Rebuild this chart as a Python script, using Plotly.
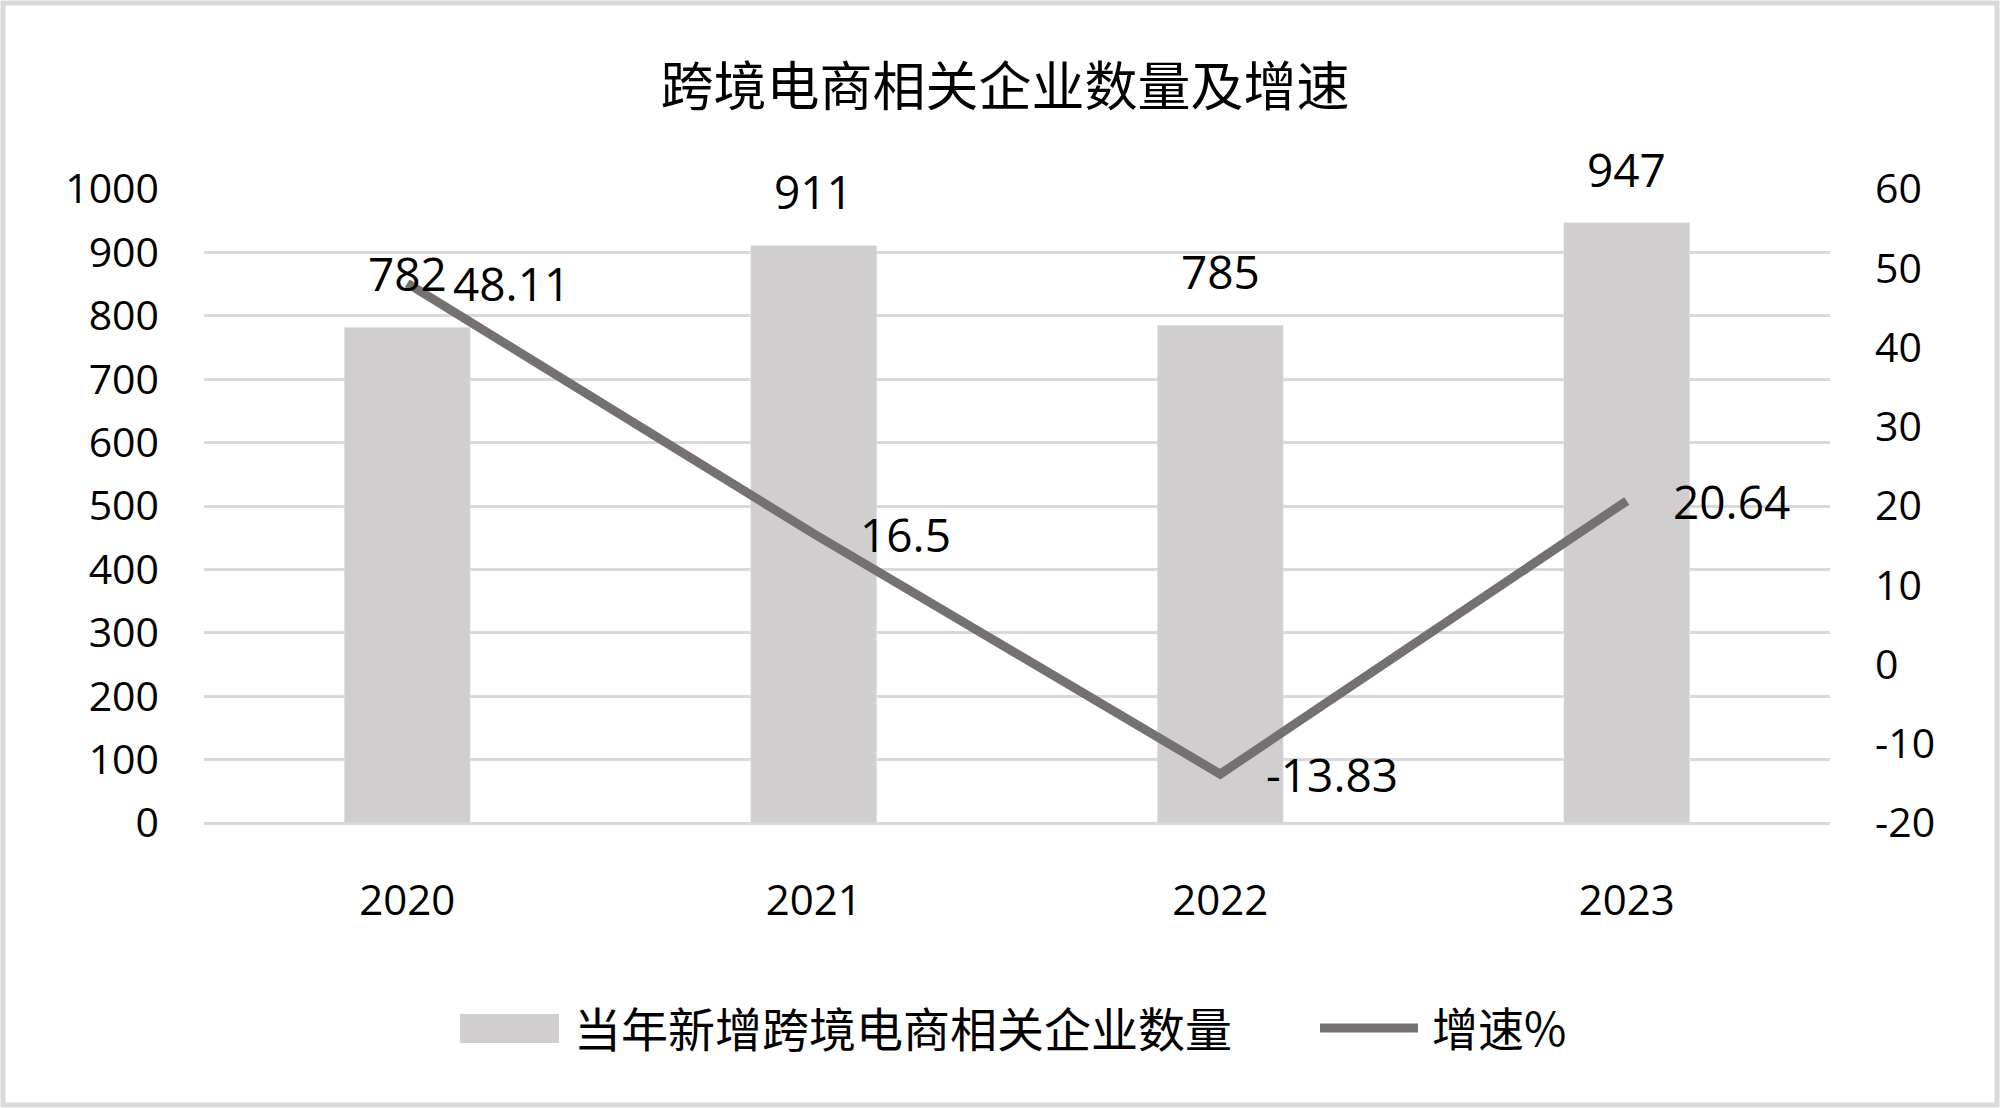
import plotly.graph_objects as go

years = ["2020", "2021", "2022", "2023"]
counts = [782, 911, 785, 947]
growth = [48.11, 16.5, -13.83, 20.64]
growth_labels = ["48.11", "16.5", "-13.83", "20.64"]

left_ticks = [0, 100, 200, 300, 400, 500, 600, 700, 800, 900, 1000]
right_ticks = [-20, -10, 0, 10, 20, 30, 40, 50, 60]
right_tick_text = ["-20", "-10", "0", "10", "20", "30", "40", "50", "60"]

title_text = "跨境电商相关企业数量及增速"
bar_name = "当年新增跨境电商相关企业数量"
line_name = "增速%"

W, H = 2000, 1108
ML, MR, MT, MB = 204, 170, 189, 285
PW = W - ML - MR
PH = H - MT - MB

def px_x(p):
    return (p - ML) / PW

def px_y(p):
    return (H - MB - p) / PH

FONT = "Open Sans, Noto Sans CJK SC, sans-serif"
CJK = "Noto Sans CJK SC, sans-serif"
BAR_C = "#d0cece"
LINE_C = "#767171"
GRID_C = "#d9d9d9"

fig = go.Figure()
fig.add_trace(go.Bar(x=years, y=counts, name=bar_name, marker_color=BAR_C,
                     width=0.31, showlegend=False, yaxis="y"))
fig.add_trace(go.Scatter(x=years, y=growth, name=line_name, mode="lines",
                         line=dict(color=LINE_C, width=9), showlegend=False,
                         yaxis="y2"))

annotations = []
for i, v in enumerate(counts):
    annotations.append(dict(x=i, y=v, xref="x", yref="y", text=str(v),
                            showarrow=False, yanchor="middle", yshift=54,
                            font=dict(family=FONT, size=46, color="#000")))
for i, (v, t) in enumerate(zip(growth, growth_labels)):
    annotations.append(dict(x=i, y=v, xref="x", yref="y2", text=t,
                            showarrow=False, xanchor="left", yanchor="middle",
                            xshift=44, font=dict(family=FONT, size=46, color="#000")))

# legend (manual)
annotations.append(dict(x=px_x(572), y=px_y(1026), xref="paper", yref="paper",
                        text=bar_name, showarrow=False, xanchor="left", yanchor="middle",
                        font=dict(family=CJK, size=47, color="#000")))
annotations.append(dict(x=px_x(1430), y=px_y(1026), xref="paper", yref="paper",
                        text=line_name, showarrow=False, xanchor="left", yanchor="middle",
                        font=dict(family=CJK, size=46, color="#000")))

shapes = [
    dict(type="rect", xref="paper", yref="paper",
         x0=px_x(460), x1=px_x(559), y0=px_y(1014), y1=px_y(1043),
         fillcolor=BAR_C, line=dict(width=0)),
    dict(type="line", xref="paper", yref="paper",
         x0=px_x(1320), x1=px_x(1418), y0=px_y(1028), y1=px_y(1028),
         line=dict(color=LINE_C, width=9)),
    dict(type="rect", xref="paper", yref="paper",
         x0=px_x(3), x1=px_x(1997), y0=px_y(3), y1=px_y(1105),
         fillcolor="rgba(0,0,0,0)", line=dict(color=GRID_C, width=5), layer="below"),
]

fig.update_layout(
    width=W, height=H,
    margin=dict(l=ML, r=MR, t=MT, b=MB),
    paper_bgcolor="white", plot_bgcolor="white",
    title=dict(text=title_text, x=px_x(1005), xanchor="center", xref="paper",
               y=1 - 87 / H, yanchor="middle",
               font=dict(family=CJK, size=53, color="#000")),
    xaxis=dict(type="category", range=[-0.5, 3.5], showgrid=False,
               showline=False, ticks="", ticklabelstandoff=49,
               tickfont=dict(family=FONT, size=42, color="#000")),
    yaxis=dict(range=[0, 1000], tickvals=left_ticks, showgrid=True, gridcolor=GRID_C,
               gridwidth=3, zeroline=True, zerolinecolor=GRID_C, zerolinewidth=3,
               showline=False, ticks="", ticklabelstandoff=44,
               tickfont=dict(family=FONT, size=41, color="#000")),
    yaxis2=dict(range=[-20, 60], tickvals=right_ticks, ticktext=right_tick_text,
                overlaying="y", side="right",
                showgrid=False, zeroline=False, showline=False, ticks="",
                ticklabelstandoff=44,
                tickfont=dict(family=FONT, size=41, color="#000")),
    annotations=annotations,
    shapes=shapes,
    showlegend=False,
)

fig.write_html("out.html", config={"displayModeBar": False},
               post_script="document.body.style.margin='0';document.body.style.padding='0';")
